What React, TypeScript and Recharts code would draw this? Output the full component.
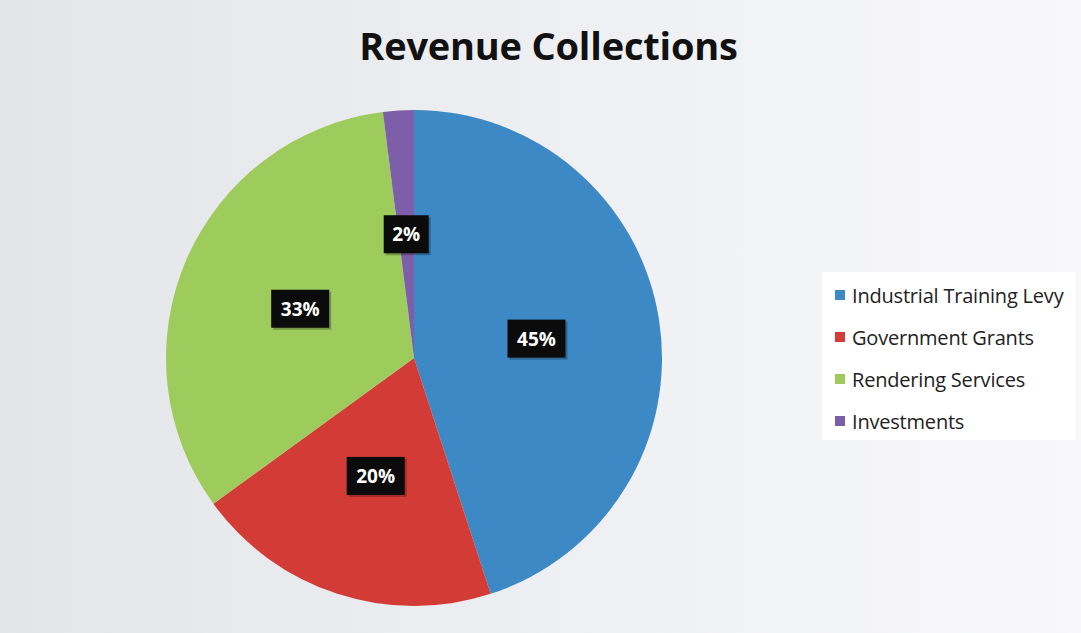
import { Legend, Pie, PieChart } from "recharts";

const categories = ["Industrial Training Levy", "Government Grants", "Rendering Services", "Investments"];
const shares = [45, 20, 33, 2];
const colors = ["#3d89c5", "#d33b37", "#9dcb5c", "#7d5ea8"];

const data = categories.map((name, i) => ({ name, value: shares[i], fill: colors[i] }));

const RAD = Math.PI / 180;

// black box with white percentage, sitting halfway out along the slice
function SliceLabel(props: any) {
  const { cx, cy, midAngle, outerRadius, value } = props;
  const r = outerRadius * 0.5;
  const x = cx + r * Math.cos(-midAngle * RAD);
  const y = cy + r * Math.sin(-midAngle * RAD);
  const text = `${value}%`;
  const w = text.length > 2 ? 58 : 45;
  const h = 38;
  return (
    <g>
      <rect x={x - w / 2 + 2} y={y - h / 2 + 2} width={w} height={h} fill="#000" opacity={0.25} />
      <rect x={x - w / 2} y={y - h / 2} width={w} height={h} fill="#0b0b0b" />
      <text
        x={x}
        y={y}
        textAnchor="middle"
        dominantBaseline="central"
        fill="#fff"
        fontFamily="'Open Sans', sans-serif"
        fontWeight={700}
        fontSize={19}
      >
        {text}
      </text>
    </g>
  );
}

// keep the legend in data order (recharts sorts its payload by name)
function LegendContent() {
  return (
    <div style={{ background: "#fff", width: 253, height: 168, padding: "2px 0 0 13px", boxSizing: "border-box" }}>
      {categories.map((name, i) => (
        <div key={name} style={{ display: "flex", alignItems: "center", height: 42 }}>
          <span style={{ width: 10, height: 10, background: colors[i], marginRight: 7, flex: "none" }} />
          <span style={{ fontFamily: "'Open Sans', sans-serif", fontSize: 20, color: "#222", whiteSpace: "nowrap", letterSpacing: -0.2 }}>
            {name}
          </span>
        </div>
      ))}
    </div>
  );
}

export default function App() {
  return (
    <div
      style={{
        position: "absolute",
        left: 0,
        top: 0,
        width: 1081,
        height: 633,
        background: "linear-gradient(90deg, #e4e5e9 0%, #eeeff2 50%, #f8f8fa 100%)",
        overflow: "hidden",
      }}
    >
      <div
        style={{
          position: "absolute",
          top: 19,
          left: 0,
          width: 1097,
          textAlign: "center",
          fontFamily: "'Open Sans', sans-serif",
          fontWeight: 700,
          fontSize: 38,
          letterSpacing: -0.2,
          color: "#111",
        }}
      >
        Revenue Collections
      </div>
      <PieChart width={1081} height={633} margin={{ top: 0, right: 0, bottom: 0, left: 0 }}>
        <Pie
          data={data}
          dataKey="value"
          nameKey="name"
          cx={414}
          cy={358}
          outerRadius={248}
          startAngle={90}
          endAngle={-270}
          stroke="none"
          label={SliceLabel}
          labelLine={false}
          isAnimationActive={false}
        />
        <Legend
          layout="vertical"
          content={<LegendContent />}
          wrapperStyle={{ left: 822, top: 272, width: 253 }}
        />
      </PieChart>
    </div>
  );
}
